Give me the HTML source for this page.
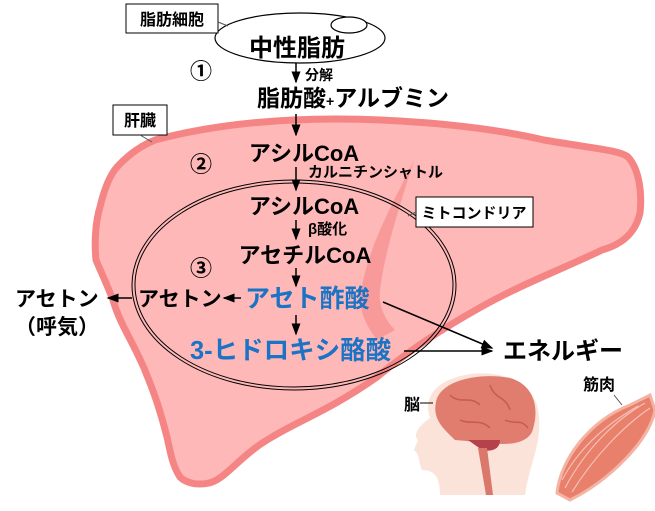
<!DOCTYPE html>
<html><head><meta charset="utf-8"><style>
body{margin:0;background:#fff}
svg text{font-family:"Liberation Sans","Noto Sans CJK JP",sans-serif;font-weight:bold}
</style></head><body>
<svg width="655" height="506" viewBox="0 0 655 506" xmlns="http://www.w3.org/2000/svg">
<defs><marker id="a" markerWidth="8" markerHeight="8" refX="7" refY="4" orient="auto"><path d="M0,1 L8,4 L0,7 Z" fill="#000"/></marker></defs>
<!-- liver -->
<path d="M293,120 C380,116 480,125 544,140 C590,148 620,150 628,157 C640,170 642,195 640,213 C635,235 620,245 602,250 C560,270 520,285 481,307 C440,330 410,350 377,377 C330,410 300,420 272,437 C240,455 225,480 209,483 C195,486 185,482 180,477 C172,465 170,450 167,437 C160,410 155,395 146,373 C135,345 120,325 113,300 C105,280 98,265 96,260 C94,240 96,220 100,207 C104,190 110,175 117,167 C128,155 140,146 155,140 C200,128 250,122 293,120 Z" fill="#feb8b8" stroke="#f58585" stroke-width="7"/>
<path d="M414,160 C395,200 365,250 360,300 C362,320 370,330 377,340 L395,330 C385,320 378,305 380,290 C385,250 400,205 414,160 Z" fill="#f89a9a"/>
<!-- mitochondria -->
<ellipse cx="294" cy="285" rx="162" ry="105" fill="none" stroke="#000" stroke-width="1"/>
<ellipse cx="294" cy="285" rx="159" ry="102" fill="none" stroke="#000" stroke-width="1"/>
<!-- fat cell -->
<ellipse cx="300" cy="38" rx="85" ry="25" fill="#fff" stroke="#000" stroke-width="1.2"/>
<ellipse cx="349" cy="25" rx="18" ry="8" fill="#fff" stroke="#000" stroke-width="1.2"/>
<!-- label boxes -->
<rect x="126" y="4" width="92" height="29" fill="#fff" stroke="#000"/>
<text x="172" y="25" font-size="16" text-anchor="middle">脂肪細胞</text>
<line x1="218" y1="22" x2="228" y2="26" stroke="#555"/>
<rect x="113" y="105" width="54" height="30" fill="#fff" stroke="#000"/>
<text x="140" y="126" font-size="16" text-anchor="middle">肝臓</text>
<line x1="140" y1="135" x2="152" y2="142" stroke="#555"/>
<rect x="416" y="197" width="117" height="30" fill="#fff" stroke="#000"/>
<text x="474" y="218" font-size="15" text-anchor="middle">ミトコンドリア</text>
<line x1="416" y1="212" x2="408" y2="216" stroke="#555"/>
<!-- texts -->
<text x="297" y="56" font-size="24" text-anchor="middle">中性脂肪</text>
<text x="201" y="79" font-size="22" text-anchor="middle" font-weight="normal">①</text>
<text x="305" y="80" font-size="14">分解</text>
<text x="257" y="106" font-size="23">脂肪酸<tspan font-size="14">+</tspan>アルブミン</text>
<text x="304" y="161" font-size="22" text-anchor="middle">アシルCoA</text>
<text x="201" y="172" font-size="22" text-anchor="middle" font-weight="normal">②</text>
<text x="308" y="177" font-size="15">カルニチンシャトル</text>
<text x="304" y="214" font-size="22" text-anchor="middle">アシルCoA</text>
<text x="308" y="234" font-size="15">β酸化</text>
<text x="305" y="263" font-size="22" text-anchor="middle">アセチルCoA</text>
<text x="201" y="276" font-size="22" text-anchor="middle" font-weight="normal">③</text>
<text x="245" y="307" font-size="25" fill="#1a73c4" font-weight="normal">アセト酢酸</text>
<text x="138" y="306" font-size="21">アセトン</text>
<text x="15" y="306" font-size="21">アセトン</text>
<text x="15" y="334" font-size="21">（呼気）</text>
<text x="190" y="359" font-size="25.5" fill="#1a73c4">3-ヒドロキシ酪酸</text>
<text x="503" y="359" font-size="24">エネルギー</text>
<!-- arrows -->
<g stroke="#000" stroke-width="1.5" marker-end="url(#a)">
<line x1="296" y1="63" x2="296" y2="82"/>
<line x1="296" y1="114" x2="296" y2="135"/>
<line x1="296" y1="167" x2="296" y2="190"/>
<line x1="296" y1="220" x2="296" y2="239"/>
<line x1="296" y1="268" x2="296" y2="286"/>
<line x1="296" y1="315" x2="296" y2="334"/>
<line x1="241" y1="298" x2="224" y2="298"/>
<line x1="132" y1="298" x2="108" y2="298"/>
<line x1="383" y1="302" x2="492" y2="348"/>
<line x1="404" y1="351" x2="492" y2="351"/>
</g>
<!-- head & brain -->
<path d="M440,385 C470,365 525,370 537,405 C545,440 530,460 525,495 L440,495 C440,478 435,470 422,470 C418,460 420,455 414,450 L418,440 C412,435 420,425 430,418 C425,405 430,392 440,385 Z" fill="#fbe3da"/>
<path d="M436,402 C440,380 480,372 510,378 C535,385 540,410 532,432 C525,445 505,445 490,443 L455,440 C445,430 432,420 436,402 Z" fill="#e07d6e"/>
<path d="M468,440 L500,440 C500,450 490,452 482,450 Z" fill="#b5424a"/>
<path d="M478,448 L487,448 L493,495 L486,495 Z" fill="#d9786b"/>
<path d="M450,395 C460,405 470,395 480,405 M490,385 C495,400 505,395 510,410 M460,420 C470,425 480,418 490,428 M505,420 C515,425 520,418 528,428" stroke="#c65a50" stroke-width="1.5" fill="none"/>
<text x="404" y="410" font-size="16">脳</text>
<line x1="420" y1="403" x2="433" y2="403" stroke="#000"/>
<!-- muscle -->
<path d="M557,493 C560,460 590,420 630,405 L650,395 L655,410 C650,440 610,480 570,500 Z" fill="#e8806c" stroke="#f4b3a3" stroke-width="3"/>
<g stroke="#f6c1b5" stroke-width="1.2" fill="none">
<path d="M565,488 C585,450 615,420 645,403"/>
<path d="M572,492 C595,455 625,425 650,408"/>
<path d="M562,480 C578,450 605,425 638,406"/>
</g>
<text x="583" y="390" font-size="16">筋肉</text>
<line x1="614" y1="395" x2="622" y2="405" stroke="#555"/>
</svg>
</body></html>
